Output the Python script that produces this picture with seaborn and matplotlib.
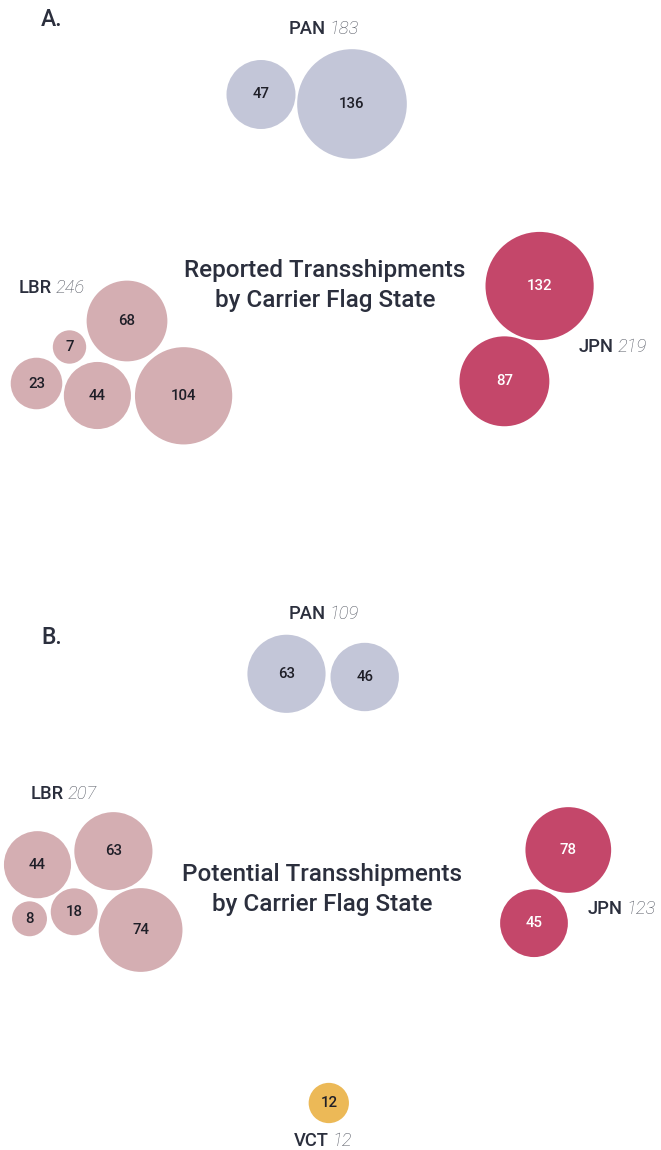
import numpy as np
import pandas as pd
import matplotlib.pyplot as plt
import seaborn as sns

# Panel A: reported transshipments by carrier flag state
flags_a = ['PAN', 'PAN', 'LBR', 'LBR', 'LBR', 'LBR', 'LBR', 'JPN', 'JPN']
values_a = [47, 136, 68, 7, 23, 44, 104, 132, 87]

# Panel B: potential transshipments by carrier flag state
flags_b = ['PAN', 'PAN', 'LBR', 'LBR', 'LBR', 'LBR', 'LBR', 'JPN', 'JPN', 'VCT']
values_b = [63, 46, 44, 63, 8, 18, 74, 78, 45, 12]

titles = {'A': ['Reported Transshipments', 'by Carrier Flag State'],
          'B': ['Potential Transshipments', 'by Carrier Flag State']}

# packed-bubble layout (pixel positions of bubble centres)
centers_a = [(261, 94.5), (352, 104), (127, 321), (69.5, 347), (36.5, 383.5),
             (97.4, 395.5), (183.6, 395.8), (539.6, 286), (504.4, 381.3)]
centers_b = [(286.5, 673.8), (364.7, 677), (37.5, 864.7), (113.4, 851.2), (29.5, 918.8),
             (74.2, 911.8), (140.6, 930), (568.3, 850), (534, 923.2), (328.8, 1103)]

# where the "FLAG total" labels sit (split point between code and total)
label_pos = {'A': {'PAN': (327, 29), 'LBR': (53, 288), 'JPN': (615, 347)},
             'B': {'PAN': (327, 614), 'LBR': (65, 794), 'JPN': (624, 909), 'VCT': (330, 1141)}}
title_pos = {'A': (325, 271, 300), 'B': (322, 875, 904)}
letter_pos = {'A': (41, 19), 'B': (41, 637)}

palette = {'PAN': '#c3c6d8', 'LBR': '#d4aeb2', 'JPN': '#c4476a', 'VCT': '#ecb957'}
text_dark = '#2b2f3d'

df = pd.concat([
    pd.DataFrame({'panel': 'A', 'flag': flags_a, 'value': values_a,
                  'x': [c[0] for c in centers_a], 'y': [c[1] for c in centers_a]}),
    pd.DataFrame({'panel': 'B', 'flag': flags_b, 'value': values_b,
                  'x': [c[0] for c in centers_b], 'y': [c[1] for c in centers_b]}),
], ignore_index=True)

W, H, DPI = 661, 1150, 100
px_to_pt = 72 / DPI


def radius_px(v):
    return 4.23 * np.sqrt(v) + 5.5


sizes = {v: (2 * radius_px(v) * px_to_pt) ** 2 for v in df['value'].unique()}

sns.set_style('white')
plt.rcParams['font.family'] = ['Roboto', 'DejaVu Sans']

fig = plt.figure(figsize=(W / DPI, H / DPI), dpi=DPI)
ax = fig.add_axes([0, 0, 1, 1])

sns.scatterplot(data=df, x='x', y='y', hue='flag', palette=palette,
                size='value', sizes=sizes, linewidth=0, legend=False, ax=ax)

ax.set_xlim(0, W)
ax.set_ylim(H, 0)
ax.set_axis_off()

# value inside each bubble
for _, row in df.iterrows():
    col = 'white' if row['flag'] == 'JPN' else '#1f1f28'
    ax.text(row['x'], row['y'], str(row['value']), ha='center', va='center',
            fontsize=10.8, fontweight='medium', color=col)

# flag labels with totals
totals = df.groupby(['panel', 'flag'])['value'].sum()
for panel, flags in label_pos.items():
    for flag, (sx, sy) in flags.items():
        ax.text(sx - 1.5, sy, flag, ha='right', va='center', fontsize=13.2,
                fontweight='medium', color=text_dark)
        ax.text(sx + 2, sy, str(totals[(panel, flag)]), ha='left', va='center',
                fontsize=13.2, fontstyle='italic', fontweight='light', color='#50545f')

# panel titles
for panel, (tx, y1, y2) in title_pos.items():
    ax.text(tx, y1, titles[panel][0], ha='center', va='center', fontsize=17.5,
            fontweight='medium', color=text_dark)
    ax.text(tx, y2, titles[panel][1], ha='center', va='center', fontsize=17.5,
            fontweight='medium', color=text_dark)

for panel, (lx, ly) in letter_pos.items():
    ax.text(lx, ly, panel + '.', ha='left', va='center', fontsize=16.5,
            fontweight='medium', color=text_dark)

fig.savefig('out.png', dpi=DPI, facecolor='white')
